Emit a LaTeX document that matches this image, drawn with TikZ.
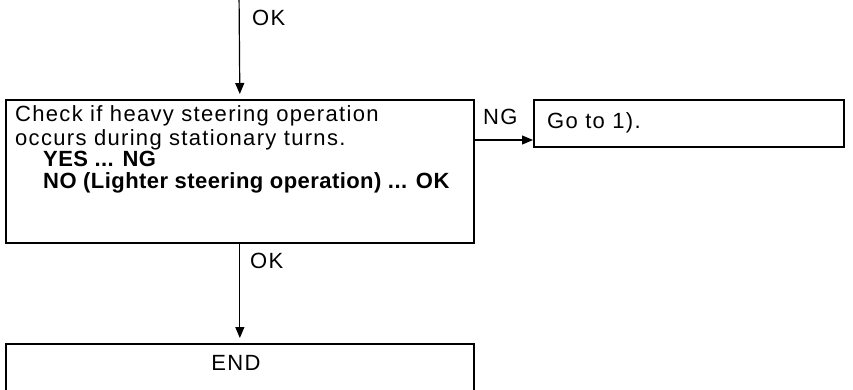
\documentclass[tikz,border=0pt]{standalone}
\usepackage{fontspec}
\setmainfont{Liberation Sans}[LetterSpace=6,BoldFeatures={LetterSpace=2}]
\usetikzlibrary{arrows.meta}
\begin{document}
\begin{tikzpicture}[x=1pt,y=-1pt,
  box/.style={draw,line width=1.7pt,rectangle,inner sep=0pt},
  arr/.style={line width=1.2pt,-{Triangle[length=11pt,width=9pt]}},
  txt/.style={inner sep=0pt,font=\fontsize{22}{26}\selectfont},
  btxt/.style={inner sep=0pt,font=\fontsize{22}{26}\selectfont\bfseries}]
\useasboundingbox (0,0) rectangle (853,389);
% boxes
\node[box,anchor=north west,minimum width=468pt,minimum height=143pt] (chk) at (5,99) {};
\node[box,anchor=north west,minimum width=310pt,minimum height=47pt] (go) at (533,99) {};
\node[box,anchor=north west,minimum width=468pt,minimum height=80pt] (endb) at (5,343) {};
% texts
\node[txt,anchor=base west] (l1) at (15,121) {Check if heavy steering operation};
\node[txt,anchor=base west] (l2) at (15,145) {occurs during stationary turns.};
\node[btxt,anchor=base west] (l3) at (43,166) {YES ... NG};
\node[btxt,anchor=base west] (l4) at (43,188) {NO (Lighter steering operation) ... OK};
\node[txt,anchor=base west] (gotxt) at (547,128) {Go to 1).};
\node[txt,anchor=base] (endtxt) at (236,370) {END};
% connectors
\coordinate (topin) at (239,-10);
\draw[arr,shorten >=5pt] (topin) -- (chk.north);
\node[txt,anchor=base west] (ok1) at (252,25) {OK};
\path (chk.north east) ++(0,41) coordinate (ngstart);
\draw[arr] (ngstart) -- (ngstart -| go.west);
\node[txt,anchor=base west] (ng) at (483,124) {NG};
\draw[arr,shorten >=5pt] (chk.south) -- (endb.north);
\node[txt,anchor=base west] (ok2) at (250,268) {OK};
\end{tikzpicture}
\end{document}
